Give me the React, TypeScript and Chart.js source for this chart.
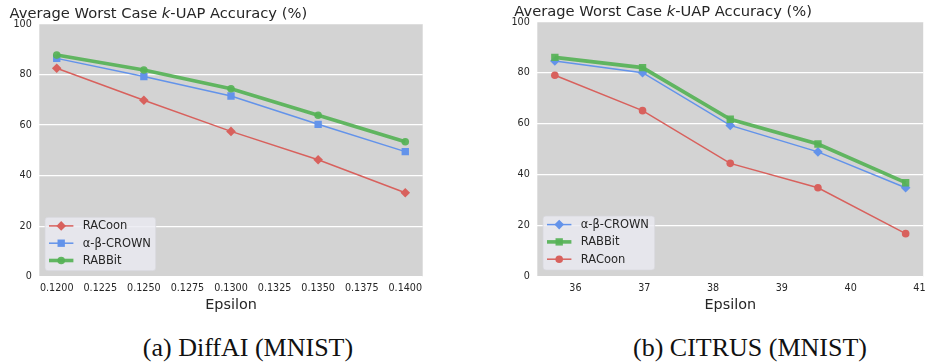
import React, { useEffect, useRef } from 'react';
import { Chart, registerables } from 'chart.js';

Chart.register(...registerables);

// ---------------- data ----------------
const diffaiEpsilon = [0.12, 0.125, 0.13, 0.135, 0.14];
const diffaiRacoon = [82.5, 69.8, 57.5, 46.3, 33.2];
const diffaiCrown = [86.4, 79.2, 71.5, 60.3, 49.5];
const diffaiRabbit = [87.7, 81.8, 74.4, 63.9, 53.4];

const citrusEpsilon = [35.7, 36.975, 38.25, 39.525, 40.8];
const citrusCrown = [84.7, 80.1, 59.4, 49.0, 34.9];
const citrusRabbit = [86.1, 82.1, 61.8, 52.1, 36.9];
const citrusRacoon = [79.1, 65.2, 44.5, 34.9, 16.9];

const yMin = 0;
const yMax = 100;
const yStep = 20;

const titleParts = ['Average Worst Case ', 'k', '-UAP Accuracy (%)'];
const xTitle = 'Epsilon';
const captions = ['(a) DiffAI (MNIST)', '(b) CITRUS (MNIST)'];

const labelRacoon = 'RACoon';
const labelCrown = 'α-β-CROWN';
const labelRabbit = 'RABBit';

// ---------------- styles ----------------
const RED = '#d8615d';
const BLUE = '#6393ea';
const GREEN = 'rgba(86,178,86,0.92)';
const PLOT_BG = '#d3d3d3';
const TEXT = '#262626';
const FONT = '"DejaVu Sans", sans-serif';

type Series = {
  label: string;
  xs: number[];
  ys: number[];
  color: string;
  lineWidth: number;
  marker: string;
  radius: number;
  order: number;
};

type Panel = {
  pageLeft: number;
  width: number;
  height: number;
  padding: { left: number; right: number; top: number; bottom: number };
  yWidth: number;
  xHeight: number;
  xMin: number;
  xMax: number;
  xStep: number;
  xDecimals: number;
  titleX: number;
  titleY: number;
  legend: { x: number; y: number; w: number; h: number };
  series: Series[];
};

const panels: Panel[] = [
  {
    pageLeft: 0,
    width: 460,
    height: 320,
    padding: { left: 0, right: 37.3, top: 24, bottom: 0 },
    yWidth: 39.3,
    xHeight: 43.3,
    xMin: 0.119,
    xMax: 0.141,
    xStep: 0.0025,
    xDecimals: 4,
    titleX: 9.5,
    titleY: 18,
    legend: { x: 45, y: 217.3, w: 110.7, h: 53.4 },
    series: [
      { label: labelRacoon, xs: diffaiEpsilon, ys: diffaiRacoon, color: RED, lineWidth: 1.5, marker: 'rectRot', radius: 4.8, order: 2 },
      { label: labelCrown, xs: diffaiEpsilon, ys: diffaiCrown, color: BLUE, lineWidth: 1.5, marker: 'rect', radius: 5.2, order: 1 },
      { label: labelRabbit, xs: diffaiEpsilon, ys: diffaiRabbit, color: GREEN, lineWidth: 3.6, marker: 'circle', radius: 3.8, order: 0 },
    ],
  },
  {
    pageLeft: 470,
    width: 465,
    height: 320,
    padding: { left: 0, right: 11.8, top: 22, bottom: 0 },
    yWidth: 67.3,
    xHeight: 43.3,
    xMin: 35.445,
    xMax: 41.055,
    xStep: 1,
    xDecimals: 0,
    titleX: 44.3,
    titleY: 16,
    legend: { x: 73, y: 216, w: 111.7, h: 54 },
    series: [
      { label: labelCrown, xs: citrusEpsilon, ys: citrusCrown, color: BLUE, lineWidth: 1.5, marker: 'rectRot', radius: 4.8, order: 2 },
      { label: labelRabbit, xs: citrusEpsilon, ys: citrusRabbit, color: GREEN, lineWidth: 3.6, marker: 'rect', radius: 5.2, order: 1 },
      { label: labelRacoon, xs: citrusEpsilon, ys: citrusRacoon, color: RED, lineWidth: 1.5, marker: 'circle', radius: 3.8, order: 0 },
    ],
  },
];

function drawMarker(ctx: CanvasRenderingContext2D, style: string, x: number, y: number, r: number, color: string) {
  ctx.save();
  ctx.fillStyle = color;
  ctx.beginPath();
  if (style === 'circle') {
    ctx.arc(x, y, r, 0, Math.PI * 2);
  } else if (style === 'rect') {
    const s = Math.SQRT1_2 * r;
    ctx.rect(x - s, y - s, 2 * s, 2 * s);
  } else {
    ctx.moveTo(x, y - r);
    ctx.lineTo(x + r, y);
    ctx.lineTo(x, y + r);
    ctx.lineTo(x - r, y);
    ctx.closePath();
  }
  ctx.fill();
  ctx.restore();
}

function makeDecorPlugin(panel: Panel) {
  return {
    id: 'decor',
    beforeDraw(chart: any) {
      const { ctx, chartArea } = chart;
      ctx.save();
      ctx.fillStyle = PLOT_BG;
      ctx.fillRect(chartArea.left, chartArea.top, chartArea.right - chartArea.left, chartArea.bottom - chartArea.top);
      ctx.restore();
    },
    afterDraw(chart: any) {
      const ctx: CanvasRenderingContext2D = chart.ctx;
      // title with italic k
      ctx.save();
      ctx.fillStyle = TEXT;
      ctx.textBaseline = 'alphabetic';
      ctx.textAlign = 'left';
      let x = panel.titleX;
      titleParts.forEach((part, i) => {
        ctx.font = (i === 1 ? 'oblique ' : '') + '14.7px ' + FONT;
        ctx.fillText(part, x, panel.titleY);
        x += ctx.measureText(part).width;
      });
      ctx.restore();

      // legend
      const lg = panel.legend;
      ctx.save();
      ctx.beginPath();
      const rr = 3;
      ctx.moveTo(lg.x + rr, lg.y);
      ctx.arcTo(lg.x + lg.w, lg.y, lg.x + lg.w, lg.y + lg.h, rr);
      ctx.arcTo(lg.x + lg.w, lg.y + lg.h, lg.x, lg.y + lg.h, rr);
      ctx.arcTo(lg.x, lg.y + lg.h, lg.x, lg.y, rr);
      ctx.arcTo(lg.x, lg.y, lg.x + lg.w, lg.y, rr);
      ctx.closePath();
      ctx.fillStyle = 'rgba(234,234,242,0.82)';
      ctx.fill();
      ctx.strokeStyle = 'rgba(215,215,220,0.9)';
      ctx.lineWidth = 0.8;
      ctx.stroke();
      ctx.font = '11.5px ' + FONT;
      ctx.textBaseline = 'middle';
      ctx.fillStyle = TEXT;
      panel.series.forEach((s, i) => {
        const cy = lg.y + 8.6 + i * 17.3;
        ctx.save();
        ctx.strokeStyle = s.color;
        ctx.lineWidth = s.lineWidth;
        ctx.beginPath();
        ctx.moveTo(lg.x + 4, cy);
        ctx.lineTo(lg.x + 28.4, cy);
        ctx.stroke();
        ctx.restore();
        drawMarker(ctx, s.marker, lg.x + 16.2, cy, s.radius, s.color);
        ctx.fillStyle = TEXT;
        ctx.fillText(s.label, lg.x + 37.7, cy + 0.5);
      });
      ctx.restore();
    },
  };
}

function ChartPanel({ panel }: { panel: Panel }) {
  const ref = useRef<HTMLCanvasElement>(null);
  useEffect(() => {
    const canvas = ref.current;
    if (!canvas) return;
    const chart = new Chart(canvas, {
      type: 'line',
      data: {
        datasets: panel.series.map((s) => ({
          label: s.label,
          data: s.xs.map((x, i) => ({ x, y: s.ys[i] })),
          borderColor: s.color,
          backgroundColor: s.color,
          borderWidth: s.lineWidth,
          pointStyle: s.marker as any,
          pointRadius: s.radius,
          pointBorderWidth: 0,
          pointBackgroundColor: s.color,
          pointBorderColor: s.color,
          tension: 0,
          fill: false,
          order: s.order,
        })),
      },
      options: {
        animation: false,
        responsive: false,
        devicePixelRatio: 1,
        layout: { padding: panel.padding },
        plugins: {
          legend: { display: false },
          title: { display: false },
          tooltip: { enabled: false },
        },
        scales: {
          x: {
            type: 'linear',
            min: panel.xMin,
            max: panel.xMax,
            grid: { display: false, drawTicks: false },
            border: { display: false },
            ticks: {
              stepSize: panel.xStep,
              includeBounds: false,
              autoSkip: false,
              maxRotation: 0,
              padding: 6.5,
              color: TEXT,
              font: { family: FONT, size: 9.6 },
              callback: (v: any) => Number(v).toFixed(panel.xDecimals),
            },
            title: {
              display: true,
              text: xTitle,
              color: TEXT,
              font: { family: FONT, size: 14.4 },
              padding: { top: 0, bottom: 6 },
            },
            afterFit: (scale: any) => {
              scale.height = panel.xHeight;
            },
          },
          y: {
            type: 'linear',
            min: yMin,
            max: yMax,
            grid: { color: '#ffffff', lineWidth: 1.2, drawTicks: false },
            border: { display: false },
            ticks: {
              stepSize: yStep,
              padding: 7.5,
              color: TEXT,
              font: { family: FONT, size: 9.6 },
            },
            afterFit: (scale: any) => {
              scale.width = panel.yWidth;
            },
          },
        },
      },
      plugins: [makeDecorPlugin(panel)],
    } as any);
    return () => chart.destroy();
  }, [panel]);
  return (
    <canvas
      ref={ref}
      width={panel.width}
      height={panel.height}
      style={{ position: 'absolute', left: panel.pageLeft, top: 0, width: panel.width, height: panel.height }}
    />
  );
}

const captionStyle: React.CSSProperties = {
  position: 'absolute',
  top: 334.5,
  width: 300,
  textAlign: 'center',
  fontFamily: '"Liberation Serif", serif',
  fontSize: 26,
  lineHeight: '26px',
  color: '#111',
  whiteSpace: 'nowrap',
};

export default function App() {
  return (
    <div
      style={{
        position: 'absolute',
        left: 0,
        top: 0,
        width: 925,
        height: 362,
        overflow: 'hidden',
        background: '#ffffff',
      }}
    >
      {panels.map((p, i) => (
        <ChartPanel key={i} panel={p} />
      ))}
      <div style={{ ...captionStyle, left: 248 - 150 }}>{captions[0]}</div>
      <div style={{ ...captionStyle, left: 750 - 150 }}>{captions[1]}</div>
    </div>
  );
}
